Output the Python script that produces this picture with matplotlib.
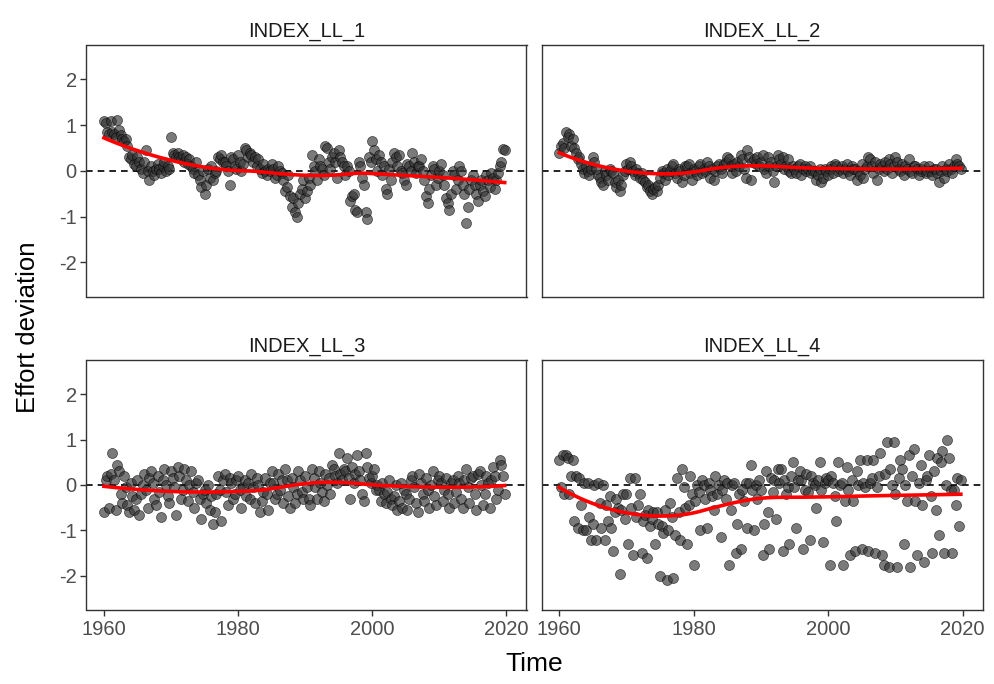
import numpy as np
import matplotlib
matplotlib.use("Agg")
import matplotlib.pyplot as plt

plt.rcParams['font.family'] = ['Liberation Sans', 'DejaVu Sans']
plt.rcParams['axes.unicode_minus'] = False

# quarterly observations, 1960 Q1 .. 2019 Q4 (four values per row = one year)
years = list(range(1960, 2020))
quarter_offsets = [0.0, 0.25, 0.5, 0.75]

ll1 = [
    1.10, 1.05, 0.85, 0.80,   1.10, 0.85, 0.80, 0.75,   1.12, 0.90, 0.78, 0.70,
    0.65, 0.70, 0.55, 0.30,   0.25, 0.35, 0.15, 0.10,   0.30, 0.20, 0.05, -0.05,
    0.20, 0.45, 0.00, -0.20,  0.10, 0.00, -0.10, 0.05,  0.15, 0.05, -0.05, 0.10,
    0.20, 0.00, 0.10, 0.05,   0.75, 0.40, 0.35, 0.30,   0.40, 0.30, 0.25, 0.35,
    0.20, 0.30, 0.15, 0.25,   0.10, 0.05, -0.05, 0.20,  -0.10, -0.20, -0.35, 0.00,
    -0.50, -0.30, 0.05, -0.15, 0.10, -0.20, -0.05, 0.00, 0.30, 0.25, 0.35, 0.20,
    0.20, 0.10, 0.00, -0.30,  0.30, 0.25, 0.10, 0.05,   0.35, 0.20, 0.00, 0.15,
    0.50, 0.45, 0.30, 0.40,   0.35, 0.20, 0.30, 0.10,   0.25, 0.05, -0.05, 0.15,
    0.00, -0.10, 0.05, 0.00,  0.15, 0.05, -0.15, -0.10, 0.10, 0.00, -0.05, -0.20,
    -0.45, -0.35, -0.10, -0.55, -0.80, -0.60, -0.90, -1.00, -0.70, -0.50, -0.40, -0.20,
    -0.60, -0.45, -0.15, -0.30, 0.35, 0.10, 0.00, -0.20, 0.25, 0.10, 0.05, -0.10,
    0.55, 0.50, 0.20, 0.05,   0.30, 0.40, 0.20, -0.15,  0.45, 0.30, 0.20, 0.10,
    -0.10, 0.10, 0.00, -0.65, -0.55, -0.50, -0.85, -0.90, 0.20, 0.10, -0.15, -0.30,
    -0.90, -1.05, 0.30, 0.20, 0.65, 0.45, 0.25, 0.00,   0.35, 0.20, -0.10, 0.10,
    -0.40, -0.50, 0.05, -0.20, 0.20, 0.40, 0.30, 0.10,  0.35, 0.00, -0.05, -0.20,
    -0.30, 0.15, 0.10, 0.00,  0.40, 0.20, -0.05, 0.10,  0.10, 0.25, 0.00, -0.20,
    -0.55, -0.70, -0.40, -0.10, 0.10, 0.05, -0.30, -0.15, 0.00, 0.15, -0.10, -0.30,
    -0.60, -0.70, -0.85, -0.50, 0.00, -0.10, -0.40, -0.20, 0.10, 0.00, -0.30, -0.50,
    -1.15, -0.80, -0.40, -0.20, -0.10, -0.30, -0.50, -0.65, -0.30, -0.20, -0.45, -0.55,
    -0.10, -0.20, -0.35, -0.05, -0.15, -0.40, -0.20, -0.05, 0.10, 0.20, 0.48, 0.45,
]

ll2 = [
    0.40, 0.55, 0.60, 0.50,   0.85, 0.75, 0.80, 0.55,   0.70, 0.50, 0.40, 0.25,
    0.30, 0.15, 0.05, -0.05,  0.10, 0.00, -0.10, 0.05,  0.30, 0.20, 0.05, -0.10,
    -0.15, -0.25, -0.30, 0.00, -0.10, -0.20, 0.05, 0.00, -0.05, -0.25, -0.35, -0.20,
    -0.45, -0.30, -0.10, 0.00, 0.15, 0.05, 0.20, 0.10,  0.00, -0.10, 0.05, -0.05,
    -0.15, -0.05, -0.20, -0.25, -0.35, -0.30, -0.45, -0.50, -0.40, -0.35, -0.45, -0.30,
    -0.15, 0.00, -0.05, -0.20, 0.05, -0.10, 0.00, 0.10, 0.15, -0.05, -0.15, 0.05,
    0.00, -0.25, -0.10, 0.10, 0.10, 0.15, -0.05, -0.20, 0.05, 0.00, -0.10, 0.10,
    0.15, -0.05, 0.05, 0.00,  0.20, 0.10, -0.15, 0.05,  -0.20, 0.00, 0.10, 0.15,
    0.05, -0.05, 0.15, 0.20,  0.30, 0.25, 0.10, -0.05,  0.15, 0.00, 0.20, 0.10,
    0.35, 0.25, 0.05, -0.15,  0.45, 0.30, -0.20, 0.20,  0.25, 0.15, 0.30, 0.10,
    0.20, 0.35, 0.05, -0.05,  0.30, 0.10, 0.20, 0.00,   -0.25, 0.10, 0.35, 0.25,
    0.15, 0.30, 0.05, 0.10,   0.25, 0.00, -0.05, 0.10,  0.05, -0.05, 0.10, 0.15,
    -0.10, 0.05, 0.10, 0.00,  0.05, 0.10, -0.05, 0.00,  0.00, -0.20, -0.10, 0.05,
    -0.25, -0.15, 0.05, 0.00, -0.10, 0.05, 0.10, -0.05, 0.15, 0.10, 0.00, 0.05,
    0.10, -0.05, 0.05, 0.15,  0.00, -0.10, 0.10, 0.05,  0.05, -0.20, 0.00, -0.10,
    0.15, -0.15, 0.05, 0.10,  0.30, 0.25, 0.10, -0.05,  0.20, -0.20, 0.05, 0.15,
    0.10, 0.00, 0.20, 0.05,   0.25, 0.15, -0.05, 0.10,  0.30, 0.20, 0.05, 0.00,
    0.15, -0.10, 0.10, 0.05,  0.25, 0.00, -0.05, 0.10,  0.10, 0.05, -0.10, 0.00,
    0.05, 0.10, -0.05, 0.00,  0.10, 0.00, -0.10, 0.05,  0.05, -0.05, -0.25, 0.00,
    0.10, -0.15, 0.05, 0.00,  0.15, 0.05, -0.05, 0.10,  0.25, 0.15, 0.10, 0.05,
]

ll3 = [
    -0.60, 0.10, 0.20, -0.50, 0.25, 0.70, 0.10, -0.55, 0.45, 0.30, -0.20, -0.40,
    0.20, -0.05, -0.45, -0.60, 0.05, -0.25, -0.55, -0.30, 0.10, -0.65, -0.20, 0.00,
    0.25, -0.10, -0.50, 0.15, 0.30, 0.05, -0.30, -0.45, 0.20, -0.15, -0.70, 0.10,
    0.35, 0.00, -0.25, -0.40, 0.30, 0.15, -0.05, -0.65, 0.40, 0.20, -0.30, -0.10,
    0.35, 0.10, -0.35, 0.00,  0.30, -0.15, -0.50, 0.05, 0.10, -0.30, -0.75, -0.20,
    -0.10, -0.40, 0.00, -0.55, -0.25, -0.85, -0.60, -0.20, 0.20, -0.10, -0.80, 0.10,
    0.25, -0.15, -0.45, 0.15, 0.05, -0.30, -0.20, 0.10, 0.20, -0.10, -0.50, -0.05,
    0.10, -0.25, 0.05, -0.30, 0.25, -0.05, -0.40, 0.15, 0.00, -0.60, -0.35, -0.15,
    0.15, -0.20, -0.55, 0.05, 0.30, 0.05, -0.30, -0.20, 0.25, -0.10, 0.10, -0.40,
    0.35, 0.10, -0.25, -0.50, 0.15, -0.05, -0.40, -0.20, 0.30, 0.10, -0.15, -0.30,
    0.20, -0.05, -0.30, -0.45, 0.35, 0.15, -0.05, -0.30, 0.30, 0.05, -0.15, -0.35,
    0.25, 0.00, 0.15, -0.20,  0.45, 0.35, 0.20, 0.05,  0.70, 0.25, 0.10, 0.35,
    0.30, 0.60, 0.15, -0.30,  0.40, 0.05, 0.25, 0.65,  0.30, 0.10, -0.20, -0.35,
    0.70, 0.40, 0.15, 0.05,   0.20, 0.35, -0.10, 0.00, -0.10, -0.35, 0.05, -0.20,
    -0.40, -0.15, 0.10, -0.30, -0.45, -0.25, 0.00, -0.55, -0.35, 0.05, -0.50, -0.10,
    -0.20, -0.55, -0.30, 0.10, 0.20, -0.05, -0.40, -0.60, 0.25, 0.05, -0.20, -0.35,
    0.15, -0.10, -0.50, 0.00, 0.30, -0.25, -0.45, 0.10, 0.20, 0.05, -0.35, -0.10,
    0.15, -0.20, -0.50, 0.05, 0.10, -0.40, -0.15, 0.20, 0.05, -0.30, -0.50, 0.10,
    0.35, -0.05, -0.40, 0.15, 0.20, -0.20, -0.55, 0.25, 0.30, 0.00, -0.45, -0.20,
    0.20, 0.05, -0.50, 0.10,  0.40, 0.20, -0.30, -0.10, 0.55, 0.45, 0.20, -0.20,
]

ll4 = [
    0.55, -0.05, 0.65, -0.20, 0.65, 0.60, -0.20, 0.20, 0.55, -0.80, 0.20, -0.95,
    0.15, -0.45, -1.00, 0.05, -1.00, 0.05, -0.70, -1.20, -0.85, 0.00, -1.20, 0.05,
    -0.40, -0.95, 0.00, -1.20, -0.45, -0.80, -0.25, -0.95, -1.45, -0.60, -0.30, -0.50,
    -1.95, -0.55, -0.20, -0.75, -0.20, -1.30, 0.15, -0.50, -1.55, 0.15, -0.70, -0.45,
    -0.20, -1.50, -0.80, -0.65, -1.60, -0.55, -0.90, -0.75, -0.60, -1.30, -0.60, -0.85,
    -2.00, -0.90, -1.05, -0.55, -2.10, -1.00, -0.40, -0.70, -2.05, -1.10, 0.15, -0.60,
    -1.20, 0.35, -0.05, -0.50, -1.30, -0.45, 0.20, -0.20, -1.75, -0.35, 0.00, -0.15,
    -1.00, 0.10, 0.00, -0.30, -0.95, 0.05, -0.10, -0.25, -0.55, 0.20, -0.20, 0.00,
    -1.15, -0.10, 0.10, -0.30, 0.05, -1.75, -0.55, 0.00, 0.05, -1.50, -0.85, -0.20,
    -1.40, -0.10, -0.35, 0.05, -0.95, 0.05, 0.45, -0.10, -1.00, 0.00, -0.30, 0.10,
    -0.10, -1.55, -0.85, 0.30, -0.60, -1.40, 0.15, -0.15, 0.10, -0.75, 0.35, 0.05,
    0.35, -1.45, 0.10, -0.20, -0.05, -1.30, 0.20, 0.50, -0.05, -0.95, 0.10, 0.30,
    0.10, -1.40, -0.10, 0.25, -0.15, -1.20, 0.20, 0.05, 0.00, -0.50, 0.10, 0.50,
    -0.10, -1.25, 0.05, 0.15, 0.10, -1.75, 0.20, 0.05, -0.25, -0.80, 0.50, 0.00,
    0.05, -1.75, -0.35, 0.40, -0.10, -1.55, 0.10, -0.35, -1.45, 0.30, 0.00, 0.55,
    -1.40, 0.05, -0.05, 0.55, -1.45, 0.05, 0.15, 0.55, -1.50, -0.05, 0.20, 0.70,
    -1.55, -1.75, 0.25, 0.95, -1.80, 0.35, 0.00, 0.95, -0.20, -1.80, 0.15, 0.55,
    0.35, -1.30, 0.00, -0.35, 0.65, -1.80, 0.20, 0.80, -0.35, -1.55, 0.05, 0.45,
    -0.45, -1.70, 0.10, 0.20, 0.65, -0.25, -1.50, 0.30, -0.55, 0.60, -1.10, 0.50,
    0.75, -1.50, 0.00, 1.00, 0.60, -0.10, -1.50, -0.10, -0.45, 0.15, -0.90, 0.10,
]

panel_titles = ["INDEX_LL_1", "INDEX_LL_2", "INDEX_LL_3", "INDEX_LL_4"]
series = [ll1, ll2, ll3, ll4]
x_ticks = [1960, 1980, 2000, 2020]
y_ticks = [-2, -1, 0, 1, 2]

time = np.array([y + q for y in years for q in quarter_offsets])


def loess(x, y, span=0.75, n_out=80):
    # local quadratic fit with tricube weights (what geom_smooth does for small n)
    xs = np.linspace(x.min(), x.max(), n_out)
    q = int(np.floor(len(x) * span))
    ys = []
    for x0 in xs:
        d = np.abs(x - x0)
        h = np.sort(d)[q - 1]
        w = np.clip(1 - (d / h) ** 3, 0, None) ** 3
        coef = np.polyfit(x - x0, y, 2, w=np.sqrt(w))
        ys.append(coef[-1])
    return xs, np.array(ys)


fig = plt.figure(figsize=(9.95, 6.84), dpi=100)
W, H = 995, 684
boxes = [
    (86.5, 45, 526.5, 296.7),
    (541.7, 45, 982.7, 296.7),
    (86.5, 360, 526.5, 610),
    (541.7, 360, 982.7, 610),
]

for i, (title, vals, box) in enumerate(zip(panel_titles, series, boxes)):
    x0, y0, x1, y1 = box
    ax = fig.add_axes([x0 / W, 1 - y1 / H, (x1 - x0) / W, (y1 - y0) / H])
    vals = np.array(vals)
    ax.axhline(0, color="black", linestyle=(0, (4, 3)), linewidth=1.2, zorder=1)
    ax.scatter(time, vals, s=52, facecolor=(0.2, 0.2, 0.2), edgecolor="black",
               linewidth=0.5, alpha=0.65, zorder=2)
    sx, sy = loess(time, vals)
    ax.plot(sx, sy, color="red", linewidth=2.6, zorder=3)

    ax.set_xlim(1957.4, 2023.0)
    ax.set_ylim(-2.75, 2.75)
    ax.set_xticks(x_ticks)
    ax.set_yticks(y_ticks)
    ax.tick_params(direction="out", length=4, width=1, color="#333333",
                   labelcolor="#4D4D4D", labelsize=14.5, pad=3)
    for sp in ax.spines.values():
        sp.set_color("#333333")
        sp.set_linewidth(1)
    if i in (1, 3):
        ax.tick_params(axis="y", length=0, labelleft=False)
    if i in (0, 1):
        ax.tick_params(axis="x", length=0, labelbottom=False)
    ax.set_title(title, fontsize=14.5, color="#1A1A1A", pad=6)

fig.text(28 / W, 1 - 327.5 / H, "Effort deviation", rotation=90,
         ha="center", va="center", fontsize=18.5)
fig.text(534.6 / W, 1 - 664 / H, "Time", ha="center", va="center", fontsize=19)

fig.savefig("out.png", dpi=100)
